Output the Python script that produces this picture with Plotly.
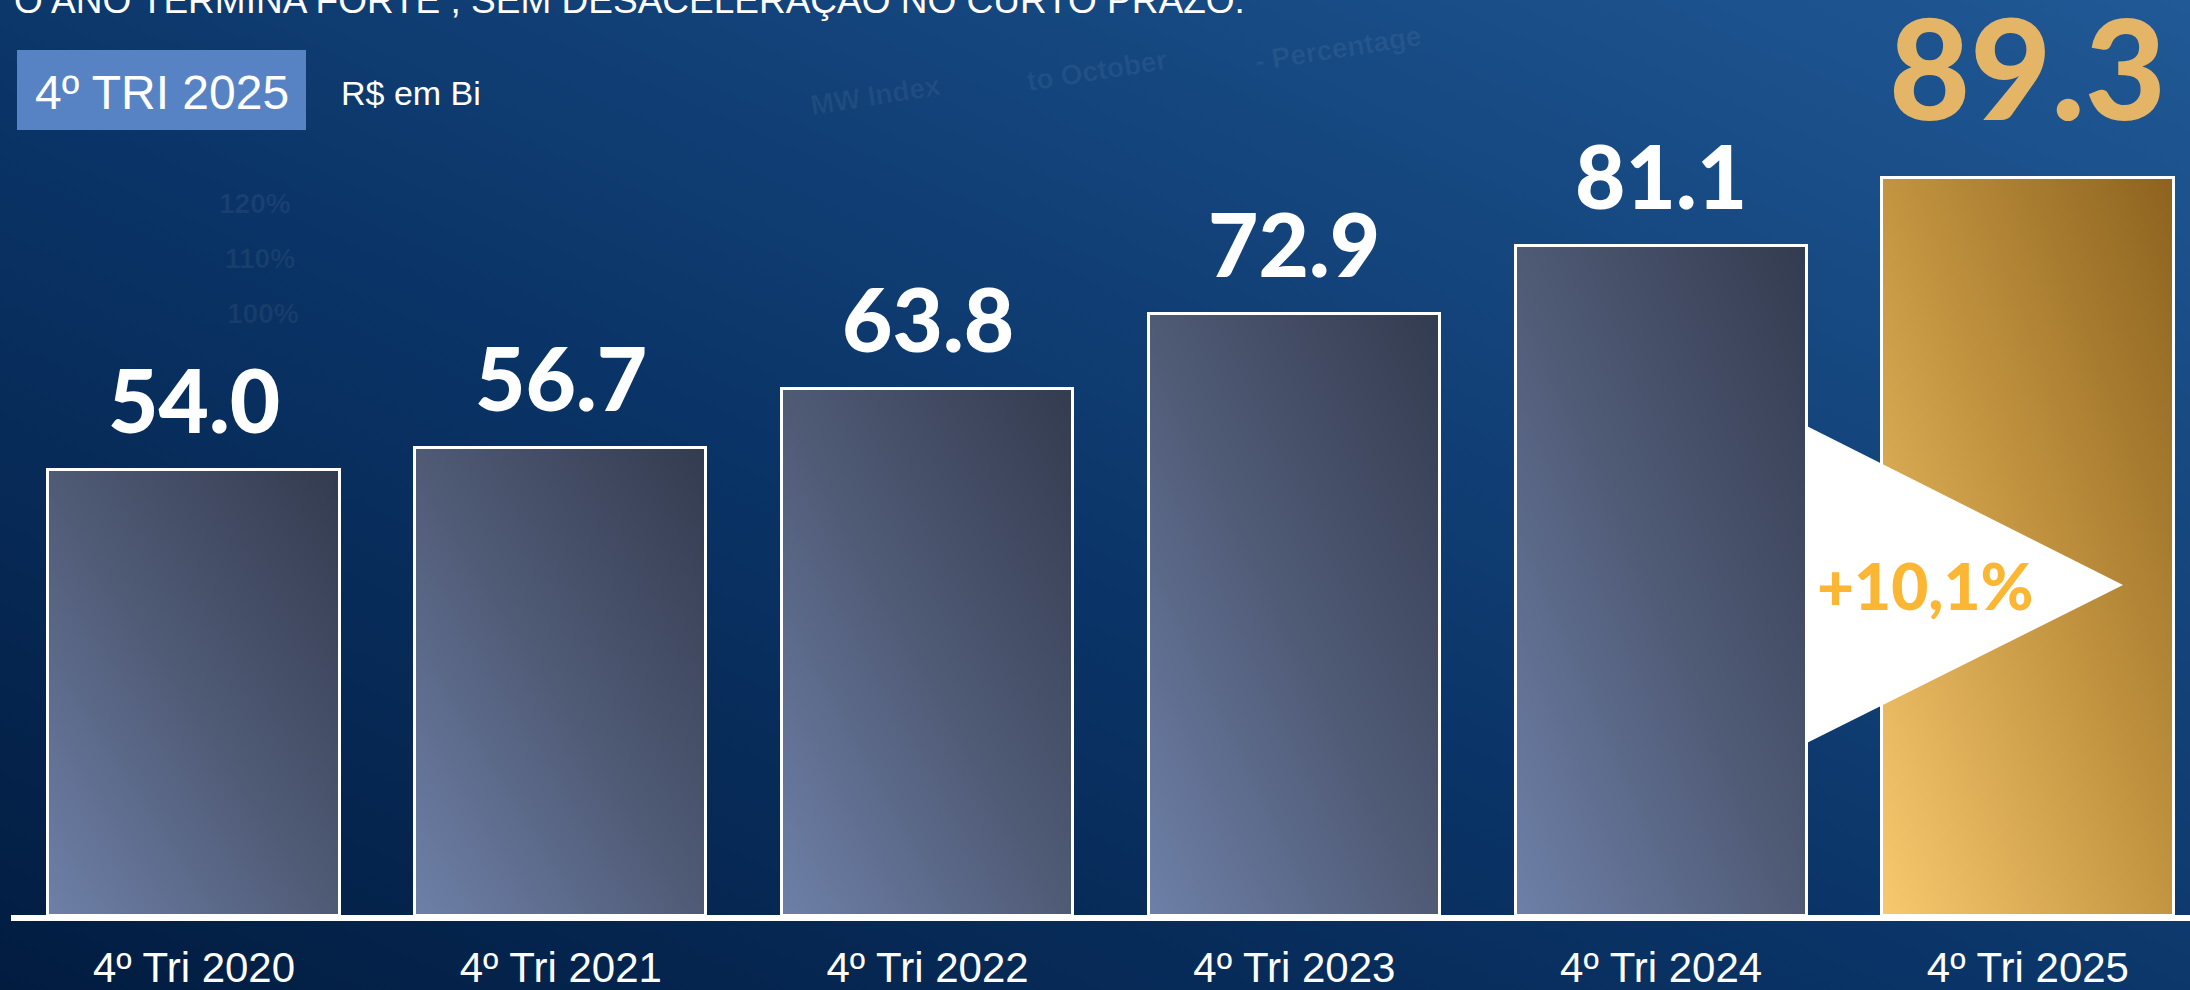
import base64
import plotly.graph_objects as go

# ---------------- data ----------------
categories = ["4º Tri 2020", "4º Tri 2021", "4º Tri 2022", "4º Tri 2023", "4º Tri 2024", "4º Tri 2025"]
values = [54.0, 56.7, 63.8, 72.9, 81.1, 89.3]
growth_label = "+10,1%"
title_text = "O ANO TERMINA FORTE , SEM DESACELERAÇÃO NO CURTO PRAZO."
period_label = "4º TRI 2025"
unit_label = "R$ em Bi"

# ---------------- layout constants ----------------
W, H = 2190, 990
PLOT_BOTTOM_PX = 916           # pixel row of the baseline (value 0)
Y_LO, Y_HI = 0, 110.9          # value range of the plotting area
X_LO, X_HI = -0.529, 5.442
BAR_W = 0.794


def grad_uri(stops, x1=0, y1=1, x2=1, y2=0):
    st = "".join(f'<stop offset="{o}" stop-color="{c}"/>' for o, c in stops)
    svg = ('<svg xmlns="http://www.w3.org/2000/svg" width="100" height="100" viewBox="0 0 100 100" '
           'preserveAspectRatio="none"><defs>'
           f'<linearGradient id="g" x1="{x1}" y1="{y1}" x2="{x2}" y2="{y2}">{st}</linearGradient>'
           '</defs><rect x="0" y="0" width="100" height="100" fill="url(#g)"/></svg>')
    return "data:image/svg+xml;base64," + base64.b64encode(svg.encode()).decode()


bg_uri = grad_uri([(0, "#021C40"), (0.45, "#0A3467"), (1, "#205996")])
bar_uri = grad_uri([(0, "#6E80A8"), (0.5, "#4F5A75"), (1, "#333B4F")])
gold_uri = grad_uri([(0, "#F8C96E"), (0.5, "#C39541"), (1, "#8C621E")])

xs = list(range(len(categories)))

fig = go.Figure()
fig.add_trace(go.Bar(
    x=xs, y=values, width=BAR_W,
    marker=dict(color="rgba(0,0,0,0)", line=dict(color="white", width=3)),
    hoverinfo="skip",
))


def py(pixel_y):
    """pixel row -> paper y"""
    return (PLOT_BOTTOM_PX - pixel_y) / PLOT_BOTTOM_PX


def px(pixel_x):
    return pixel_x / W


images = [dict(source=bg_uri, xref="paper", yref="paper", x=0, y=1,
               sizex=1, sizey=H / PLOT_BOTTOM_PX, xanchor="left", yanchor="top",
               sizing="stretch", layer="below")]
for i, v in enumerate(values):
    images.append(dict(source=gold_uri if i == len(values) - 1 else bar_uri,
                       xref="x", yref="y", x=xs[i] - BAR_W / 2, y=v,
                       sizex=BAR_W, sizey=v - Y_LO, xanchor="left", yanchor="top",
                       sizing="stretch", layer="below"))

annotations = []
# faint background decoration texts
faint = dict(color="rgba(255,255,255,0.06)", family="Liberation Sans", size=28, weight="bold")
for t, x, y, ang, xa in [("MW Index", 875, 95, -9, "center"), ("to October", 1097, 70, -9, "center"),
                         ("- Percentage", 1338, 49, -9, "center"),
                         ("120%", 293, 203, 0, "right"), ("110%", 297, 258, 0, "right"),
                         ("100%", 301, 314, 0, "right")]:
    annotations.append(dict(text=t, x=px(x), y=py(y), xref="paper", yref="paper",
                            xanchor=xa, yanchor="middle",
                            showarrow=False, font=faint, textangle=ang))

# value labels
for i, v in enumerate(values):
    last = i == len(values) - 1
    annotations.append(dict(
        text=f"{v:.1f}", x=xs[i], y=v, xref="x", yref="y",
        xanchor="center", yanchor="bottom", showarrow=False,
        yshift=26 if last else 16,
        font=dict(family="Lato", size=140 if last else 87, weight=900,
                  color="#E4B566" if last else "white"),
    ))

# title (partially cut at top), period box, unit
annotations += [
    dict(text=title_text, x=px(12), y=py(0), xref="paper", yref="paper", xanchor="left",
         yanchor="middle", showarrow=False,
         font=dict(family="Liberation Sans", size=37, color="white")),
    dict(text=period_label, x=px(162), y=py(92), xref="paper", yref="paper", xanchor="center",
         yanchor="middle", showarrow=False,
         font=dict(family="Liberation Sans", size=48, color="white")),
    dict(text=unit_label, x=px(339), y=py(93), xref="paper", yref="paper", xanchor="left",
         yanchor="middle", showarrow=False,
         font=dict(family="Liberation Sans", size=34, color="white")),
    dict(text=growth_label, x=px(1925), y=py(585), xref="paper", yref="paper", xanchor="center",
         yanchor="middle", showarrow=False,
         font=dict(family="Lato", size=64, weight=900, color="#FBB634")),
]

tri_left = xs[4] + BAR_W / 2
tri_left_p = (tri_left - X_LO) / (X_HI - X_LO)
shapes = [
    dict(type="rect", xref="paper", yref="paper", x0=px(17), x1=px(306), y0=py(130), y1=py(50),
         fillcolor="#5783C4", line=dict(width=0), layer="above"),
    dict(type="line", xref="paper", yref="paper", x0=px(11), x1=1, y0=py(918), y1=py(918),
         line=dict(color="white", width=6), layer="above"),
    dict(type="path", xref="paper", yref="paper",
         path=(f"M {tri_left_p},{py(426)} L {tri_left_p},{py(743)} "
               f"L {px(2123)},{py(585)} Z"),
         fillcolor="white", line=dict(width=0), layer="above"),
]

fig.update_layout(
    width=W, height=H, autosize=False,
    margin=dict(l=0, r=0, t=0, b=H - PLOT_BOTTOM_PX, pad=0, autoexpand=False),
    paper_bgcolor="#0A3266", plot_bgcolor="rgba(0,0,0,0)",
    showlegend=False, bargap=0,
    xaxis=dict(range=[X_LO, X_HI], tickvals=xs, ticktext=categories, showgrid=False,
               zeroline=False, showline=False, ticks="", ticklabelstandoff=23, automargin=False,
               tickfont=dict(family="Liberation Sans", size=42, color="white"), fixedrange=True),
    yaxis=dict(range=[Y_LO, Y_HI], visible=False, fixedrange=True, automargin=False),
    images=images, annotations=annotations, shapes=shapes,
)

fig.write_html("out.html", config={"displayModeBar": False, "responsive": False},
               post_script="document.body.style.margin='0';document.body.style.overflow='hidden';")
